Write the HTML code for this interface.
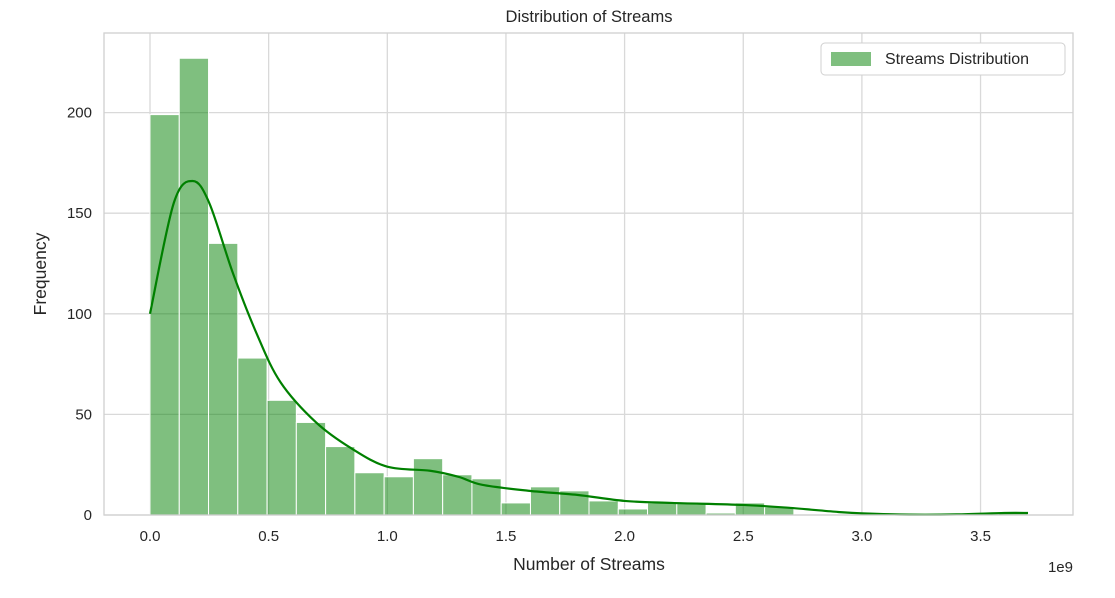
<!DOCTYPE html>
<html><head><meta charset="utf-8"><style>
body{margin:0;background:#fff;}
svg text{font-family:"Liberation Sans",sans-serif;fill:#262626;}
</style></head><body>
<svg id="c" width="1115" height="593" xmlns="http://www.w3.org/2000/svg"></svg>
<script>
const binCounts=[199,227,135,78,57,46,34,21,19,28,20,18,6,14,12,7,3,6,6,1,6,4,0,0,0,0,0,0,0,1];
const binStart=0, binEnd=3.70;
const kdeX=[0,0.1,0.18,0.25,0.35,0.45,0.55,0.7,0.85,1.0,1.18,1.3,1.4,1.6,1.8,2.0,2.2,2.5,2.7,2.9,3.0,3.2,3.4,3.6,3.7];
const kdeY=[100,155,166,155,120,90,66,46,33,24,22,19,15,12,10,7,6,5,3.5,1.5,0.8,0.2,0.3,1,1];
const xTicks=[0,0.5,1.0,1.5,2.0,2.5,3.0,3.5];
const xTickLabels=["0.0","0.5","1.0","1.5","2.0","2.5","3.0","3.5"];
const yTicks=[0,50,100,150,200];
const L=104,R=1073,T=33,B=515;
const X=v=>150+v*237.3;
const Y=v=>515-v*2.012;
const svg=document.getElementById('c');
const NS='http://www.w3.org/2000/svg';
function mk(tag,attrs,parent){const e=document.createElementNS(NS,tag);for(const k in attrs)e.setAttribute(k,attrs[k]);(parent||svg).appendChild(e);return e;}
const grid=mk('g',{});


xTicks.forEach((t,i)=>{
  mk('line',{x1:X(t),x2:X(t),y1:T,y2:B,stroke:'#d9d9d9','stroke-width':1.3},grid);
  const tx=mk('text',{x:X(t),y:541,'text-anchor':'middle','font-size':15});
  tx.textContent=xTickLabels[i];
  
  
});
yTicks.forEach(t=>{
  mk('line',{x1:L,x2:R,y1:Y(t),y2:Y(t),stroke:'#d9d9d9','stroke-width':1.3},grid);
  const tx=mk('text',{x:92,y:Y(t)+5,'text-anchor':'end','font-size':15});
  tx.textContent=t;
  
  
});
const bw=(binEnd-binStart)/binCounts.length;
binCounts.forEach((c,i)=>{
  if(c<=0)return;
  const x0=X(binStart+i*bw),x1=X(binStart+(i+1)*bw);
  const r=mk('rect',{x:x0,y:Y(c),width:x1-x0,height:Y(0)-Y(c),fill:'rgba(0,128,0,0.5)',stroke:'#fff','stroke-width':1});
  
  
});
const pts=kdeX.map((v,i)=>[X(v),Y(kdeY[i])]);
let d='M'+pts[0][0]+','+pts[0][1];
for(let i=0;i<pts.length-1;i++){
  const p0=pts[i-1]||pts[i],p1=pts[i],p2=pts[i+1],p3=pts[i+2]||p2;
  const c1=[p1[0]+(p2[0]-p0[0])/6,p1[1]+(p2[1]-p0[1])/6];
  const c2=[p2[0]-(p3[0]-p1[0])/6,p2[1]-(p3[1]-p1[1])/6];
  d+=` C${c1[0]},${c1[1]} ${c2[0]},${c2[1]} ${p2[0]},${p2[1]}`;
}
const kde=mk('path',{d:d,fill:'none',stroke:'#008000','stroke-width':2.2});


const fr=mk('rect',{x:L,y:T,width:R-L,height:B-T,fill:'none',stroke:'#d0d0d0','stroke-width':1.3});


const title=mk('text',{x:589,y:22,'text-anchor':'middle','font-size':16.5});
title.textContent='Distribution of Streams';


const xt=mk('text',{x:589,y:570,'text-anchor':'middle','font-size':17.5});
xt.textContent='Number of Streams';


const off=mk('text',{x:1073,y:572,'text-anchor':'end','font-size':15});
off.textContent='1e9';


const yt=mk('text',{x:46,y:274,'text-anchor':'middle','font-size':17.5,transform:'rotate(-90 46 274)'});
yt.textContent='Frequency';


const lg=mk('g',{});


mk('rect',{x:821,y:43,width:244,height:32,rx:4,fill:'#fff',stroke:'#d0d0d0','stroke-width':1},lg);
mk('rect',{x:831,y:52,width:40,height:14,fill:'rgba(0,128,0,0.5)'},lg);
const lt=mk('text',{x:885,y:64,'font-size':16},lg);
lt.textContent='Streams Distribution';


</script>
</body></html>
